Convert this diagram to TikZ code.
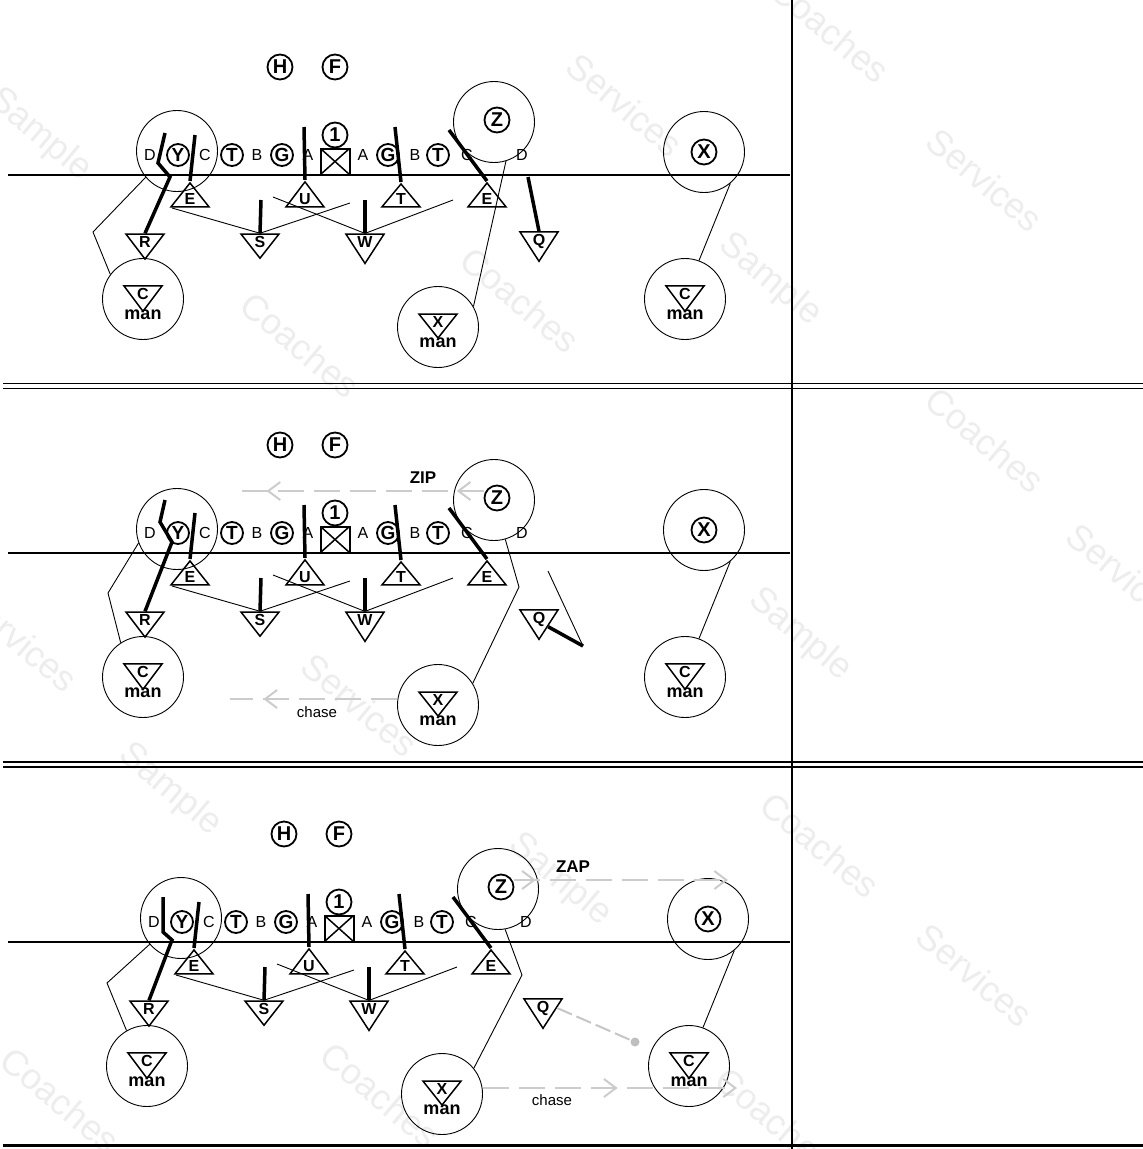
\documentclass[tikz,border=0pt]{standalone}
\usepackage{fontspec}
\setmainfont{Liberation Sans}
\usetikzlibrary{shapes.geometric,arrows.meta,decorations.markings}

\tikzset{
  player/.style={circle, draw, line width=1.8pt, inner sep=0pt, minimum size=25pt,
    font=\fontsize{20}{20}\selectfont\bfseries},
  lineman/.style={player, minimum size=22pt, font=\fontsize{19}{19}\selectfont\bfseries},
  gap/.style={inner sep=0pt, font=\fontsize{16}{16}\selectfont},
  zone/.style={circle, draw, line width=0.9pt, inner sep=0pt, minimum size=81pt},
  upd/.style={isosceles triangle, isosceles triangle stretches, shape border rotate=90,
    draw, line width=1.5pt, inner sep=0pt, minimum width=38pt, minimum height=19pt,
    font=\fontsize{16}{16}\selectfont\bfseries},
  dnd/.style={upd, shape border rotate=270},
  snap/.style={rectangle, draw, line width=2pt, minimum width=29pt, minimum height=26pt,
    path picture={\draw[line width=1.5pt]
      (path picture bounding box.south west) -- (path picture bounding box.north east)
      (path picture bounding box.north west) -- (path picture bounding box.south east);}},
  mantag/.style={inner sep=0pt, font=\fontsize{18}{18}\selectfont\bfseries},
  call/.style={inner sep=0pt, font=\fontsize{17}{17}\selectfont\bfseries},
  note/.style={inner sep=0pt, font=\fontsize{15}{15}\selectfont},
  stamp/.style={inner sep=0pt, gray!14, rotate=-40, font=\fontsize{36}{36}\selectfont},
  los/.style={line width=1.3pt},
  sep/.style={line width=1.6pt},
  route/.style={line width=3.5pt},
  read/.style={line width=0.9pt},
  chev/.tip={Straight Barb[length=12pt,width=18pt,line width=2pt]},
  motion/.style={gray!40, line width=2.8pt, dash pattern=on 26pt off 10pt},
  qmotion/.style={gray!45, line width=2pt, dash pattern=on 16pt off 5pt},
  qend/.style={circle, fill=gray!50, inner sep=0pt, minimum size=9pt},
}

% the set that is the same in every panel (LOS at y=0)
\newcommand{\formation}{%
  \node[player] (H) at (280,-108) {H};
  \node[player] (F) at (335,-108) {F};
  \node[player] (QB) at (335,-40) {1};
  \node[snap] (Ctr) at (335,-13.5) {};
  \node[gap] (gD1) at (150,-20) {D};
  \node[lineman] (Y) at (178,-20) {Y};
  \node[gap] (gC1) at (205,-20) {C};
  \node[lineman] (LT) at (232,-20) {T};
  \node[gap] (gB1) at (257,-20) {B};
  \node[lineman] (LG) at (282,-20) {G};
  \node[gap] (gA1) at (308,-20) {A};
  \node[gap] (gA2) at (363,-20) {A};
  \node[lineman] (RG) at (388,-20) {G};
  \node[gap] (gB2) at (415,-20) {B};
  \node[lineman] (RT) at (438,-20) {T};
  \node[gap] (gC2) at (467,-20) {C};
  \node[gap] (gD2) at (522,-20) {D};
  \node[player] (Z) at (497,-55) {Z};
  \node[player] (X) at (704,-23) {X};
  \node[zone] (Yz) at (177,-24) {};
  \node[zone] (Zz) at (494,-53) {};
  \node[zone] (Xz) at (704,-23) {};
  % front
  \node[upd] (E1) at (190,24) {E};
  \node[upd] (U) at (305,24) {U};
  \node[upd] (T) at (401,24) {T};
  \node[upd] (E2) at (487,24) {E};
  \node[dnd] (R) at (145,67) {R};
  \node[dnd] (S) at (260,67) {S};
  \node[dnd] (W) at (365,67) {W};
  \node[dnd] (Q) at (539,66) {Q};
  % man
  \node[zone] (Cl) at (143,124) {};
  \node[dnd] (Clt) at (143,119) {C};
  \node[mantag] (Clm) at (143,140) {man};
  \node[zone] (Cr) at (685,124) {};
  \node[dnd] (Crt) at (685,119) {C};
  \node[mantag] (Crm) at (685,140) {man};
  \node[zone] (Xm) at (438,152) {};
  \node[dnd] (Xmt) at (438,147) {X};
  \node[mantag] (Xmm) at (438,168) {man};
  % rush and steps
  \coordinate (e1top) at (195,-40);
  \coordinate (utop) at (304,-48);
  \coordinate (ttop) at (395,-48);
  \coordinate (e2top) at (449,-45);
  \coordinate (sstep) at (261,25);
  \coordinate (wstep) at (365,25);
  \draw[route] (E1.north) -- (e1top);
  \draw[route] (U.north) -- (utop);
  \draw[route] (T.north) -- (ttop);
  \draw[route] (E2.north) -- (e2top);
  \draw[route] (sstep) -- (S.north);
  \draw[route] (wstep) -- (W.north);
  % zone drops
  \coordinate (c1) at (172,33);
  \coordinate (c2) at (350,28);
  \coordinate (c3) at (273,22);
  \coordinate (c4) at (453,25);
  \draw[read] (c1) -- (S.north) -- (c2);
  \draw[read] (c3) -- (W.north) -- (c4);
  \draw[read] (Xz.310) -- (Cr.70);
}

\begin{document}
\begin{tikzpicture}[x=1pt,y=-1pt]
\useasboundingbox (0,0) rectangle (1143,1149);

% watermark
\node[stamp] (wm1) at (40,135) {Sample};
\node[stamp] (wm2) at (300,345) {Coaches};
\node[stamp] (wm3) at (520,300) {Coaches};
\node[stamp] (wm4) at (625,105) {Services};
\node[stamp] (wm5) at (770,280) {Sample};
\node[stamp] (wm6) at (830,30) {Coaches};
\node[stamp] (wm7) at (985,180) {Services};
\node[stamp] (wm8) at (985,440) {Coaches};
\node[stamp] (wm9) at (1125,575) {Services};
\node[stamp] (wm10) at (800,635) {Sample};
\node[stamp] (wm11) at (20,640) {Services};
\node[stamp] (wm13) at (360,705) {Services};
\node[stamp] (wm14) at (170,790) {Sample};
\node[stamp] (wm15) at (560,880) {Sample};
\node[stamp] (wm16) at (820,845) {Coaches};
\node[stamp] (wm17) at (975,975) {Services};
\node[stamp] (wm18) at (60,1100) {Coaches};
\node[stamp] (wm19) at (380,1095) {Coaches};
\node[stamp] (wm20) at (775,1120) {Coaches};

\draw[line width=2.5pt] (792,0) -- (792,1149);
\draw[sep] (3,383.5) -- (1143,383.5) (3,388.5) -- (1143,388.5);
\draw[sep] (3,762) -- (1143,762) (3,767) -- (1143,767);
\draw[line width=2.5pt] (3,1145.5) -- (1143,1145.5);

% panel 1
\begin{scope}[shift={(0,175)}]
  \draw[los] (8,0) -- (790,0);
  \formation
  \coordinate (ytop) at (165,-42);
  \draw[route] (R.north) -- (170,2) -- (158,-12) -- (ytop);
  \coordinate (qtop) at (528,2);
  \draw[route] (Q.north) -- (qtop);
  \coordinate (ybend) at (93,57);
  \draw[read] (Yz.220) -- (ybend) -- (Cl.143);
  \draw[read] (Zz.287) -- (Xm.30);
\end{scope}

% panel 2
\begin{scope}[shift={(0,553)}]
  \draw[los] (8,0) -- (790,0);
  \formation
  \coordinate (ytop) at (165,-53);
  \draw[route] (R.north) -- (172,-11) -- (160,-31) -- (ytop);
  \coordinate (qdeep) at (583,93);
  \coordinate (qtop) at (548,18);
  \draw[route] (Q.-40) -- (qdeep);
  \draw[read] (qdeep) -- (qtop);
  \coordinate (ybend) at (108,40);
  \draw[read] (Yz.200) -- (ybend) -- (Cl.123);
  \coordinate (zbend) at (519,34);
  \draw[read] (Zz.286) -- (zbend) -- (Xm.32);
  \coordinate (zipend) at (233,-62);
  \draw[motion, postaction={decorate}, decoration={markings,
      mark=at position 0.107 with {\arrow{chev}},
      mark=at position 0.866 with {\arrow{chev}}}] (Z.west |- zipend) -- (zipend);
  \node[call] (zip) at (423,-75) {ZIP};
  \coordinate (chaseend) at (230,146);
  \draw[motion, postaction={decorate}, decoration={markings,
      mark=at position 0.80 with {\arrow{chev}}}] (Xm.west |- chaseend) -- (chaseend);
  \node[note] (chase) at (317,159) {chase};
\end{scope}

% panel 3
\begin{scope}[shift={(4,942)}]
  \draw[los] (4,0) -- (786,0);
  \formation
  \coordinate (ytop) at (159,-45);
  \draw[route] (R.north) -- (168,-2) -- (159,-10) -- (ytop);
  \coordinate (ybend) at (103,41);
  \draw[read] (Yz.220) -- (ybend) -- (Cl.120);
  \coordinate (zbend) at (518,33);
  \draw[read] (Zz.280) -- (zbend) -- (Xm.39);
  \node[qend] (qdot) at (631,100) {};
  \draw[qmotion] (Q.east) -- (qdot);
  \coordinate (zapend) at (724,-62);
  \draw[motion, -chev, postaction={decorate}, decoration={markings,
      mark=at position 0.1 with {\arrow{chev}}}] (Z.east |- zapend) -- (zapend);
  \node[call] (zap) at (569,-75) {ZAP};
  \coordinate (chaseend) at (733,146);
  \draw[motion, -chev, postaction={decorate}, decoration={markings,
      mark=at position 0.53 with {\arrow{chev}}}] (Xm.east |- chaseend) -- (chaseend);
  \node[note] (chase) at (548,158) {chase};
\end{scope}
\end{tikzpicture}
\end{document}
